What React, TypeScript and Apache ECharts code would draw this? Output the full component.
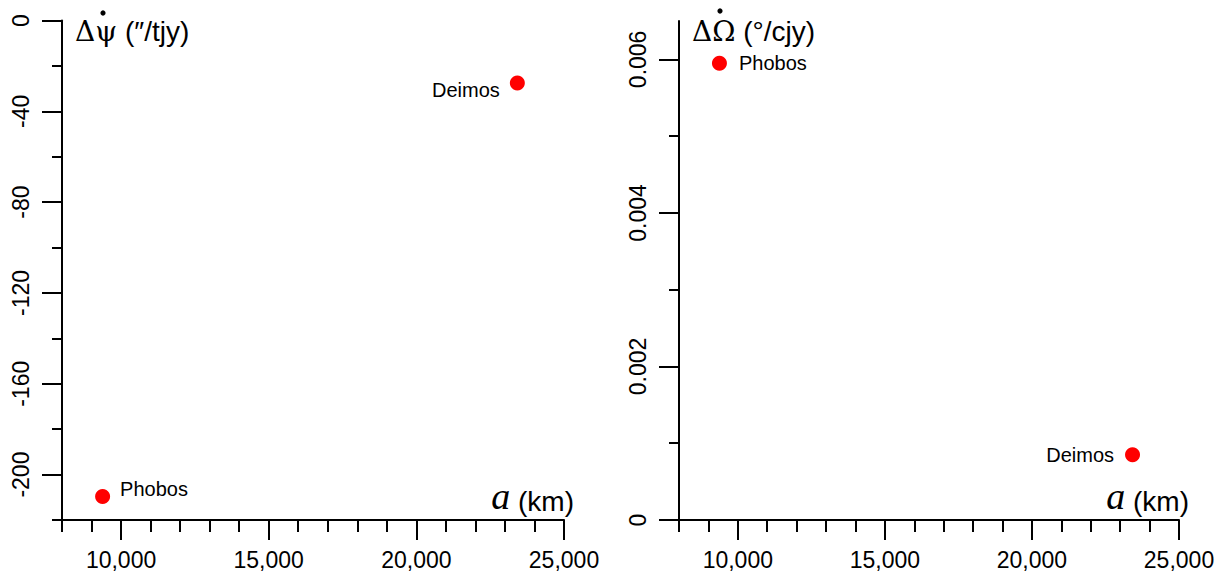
import React, { useEffect, useRef } from "react";
import * as echarts from "echarts";

const moons = ["Phobos", "Deimos"];
const semiMajorKm = [9375, 23420];
const dPsiRate = [-209.6, -27.5];
const dOmegaRate = [0.00595, 0.00085];

const xMinorTicks = [8000, 9000, 10000, 11000, 12000, 13000, 14000, 15000, 16000, 17000, 18000, 19000, 20000, 21000, 22000, 23000, 24000, 25000];
const xMajorTicks = [10000, 15000, 20000, 25000];
const psiMinorTicks = [-220, -180, -140, -100, -60, -20];
const psiMajorTicks = [-200, -160, -120, -80, -40, 0];
const omegaMinorTicks = [0.001, 0.003, 0.005];
const omegaMajorTicks = [0, 0.002, 0.004, 0.006];

const SANS = "'Liberation Sans', Arial, Helvetica, sans-serif";
const SERIF = "'Liberation Serif', 'Times New Roman', serif";
const GREEK = "'DejaVu Serif', 'Liberation Serif', serif";
const BLACK = "#000";
const RED = "#ff0000";

export default function App() {
  const ref = useRef<HTMLDivElement>(null);

  useEffect(() => {
    document.body.style.margin = "0";
    const chart = echarts.init(ref.current!, null, { renderer: "svg" });

    const line = { show: true, onZero: false, lineStyle: { color: BLACK, width: 2 } };
    const noLine = { show: false, onZero: false };

    const xName = {
      name: "{i|a}{s| (km)}",
      nameLocation: "end" as const,
      nameGap: 10,
      nameTextStyle: {
        align: "right",
        verticalAlign: "bottom",
        padding: [0, 0, 5, 0],
        rich: {
          i: { fontFamily: SERIF, fontStyle: "italic", fontSize: 38, color: BLACK, verticalAlign: "bottom" },
          s: { fontFamily: SANS, fontSize: 28, color: BLACK, verticalAlign: "bottom" },
        },
      },
    };

    const xAxesFor = (gridIndex: number) => [
      {
        type: "value",
        gridIndex,
        min: 8000,
        max: 25000,
        position: "bottom",
        axisLine: line,
        axisTick: { show: true, customValues: xMinorTicks, length: 12, lineStyle: { color: BLACK, width: 2 } },
        axisLabel: { show: false },
        splitLine: { show: false },
        ...xName,
      },
      {
        type: "value",
        gridIndex,
        min: 8000,
        max: 25000,
        position: "bottom",
        axisLine: noLine,
        axisTick: { show: true, customValues: xMajorTicks, length: 20, lineStyle: { color: BLACK, width: 2 } },
        axisLabel: {
          show: true,
          customValues: xMajorTicks,
          formatter: (v: number) => v.toLocaleString("en-US"),
          fontFamily: SANS,
          fontSize: 23,
          color: BLACK,
          margin: 28,
        },
        splitLine: { show: false },
      },
    ];

    const titleStyle = {
      align: "left",
      verticalAlign: "middle",
      padding: [0, 0, 0, 13],
      rich: {
        g: { fontFamily: GREEK, fontSize: 28, color: BLACK },
        s: { fontFamily: SANS, fontSize: 28, color: BLACK },
      },
    };

    const yAxesFor = (
      gridIndex: number,
      min: number,
      max: number,
      minor: number[],
      major: number[],
      fmt: (v: number) => string,
      title: string
    ) => [
      {
        type: "value",
        gridIndex,
        min,
        max,
        position: "left",
        axisLine: line,
        axisTick: { show: true, customValues: minor, length: 10, lineStyle: { color: BLACK, width: 2 } },
        axisLabel: { show: false },
        splitLine: { show: false },
        name: title,
        nameLocation: "end",
        nameGap: -10.5,
        nameTextStyle: titleStyle,
      },
      {
        type: "value",
        gridIndex,
        min,
        max,
        position: "left",
        axisLine: noLine,
        axisTick: { show: true, customValues: major, length: 20, lineStyle: { color: BLACK, width: 2 } },
        axisLabel: {
          show: true,
          customValues: major,
          formatter: fmt,
          rotate: 90,
          fontFamily: SANS,
          fontSize: 23,
          color: BLACK,
          margin: 30,
        },
        splitLine: { show: false },
      },
    ];

    const labelCfg = (position: string, distance: number, offsetY: number) => ({
      show: true,
      position,
      distance,
      offset: [0, offsetY],
      formatter: "{b}",
      fontFamily: SANS,
      fontSize: 20,
      color: BLACK,
      opacity: 1,
    });

    const psiData = moons.map((m, i) => ({
      name: m,
      value: [semiMajorKm[i], dPsiRate[i]],
      label: m === "Phobos" ? labelCfg("right", 10, -7) : labelCfg("left", 10, 7),
    }));
    const omegaData = moons.map((m, i) => ({
      name: m,
      value: [semiMajorKm[i], dOmegaRate[i]],
      label: m === "Phobos" ? labelCfg("right", 12, 0) : labelCfg("left", 11, 0),
    }));

    chart.setOption({
      animation: false,
      backgroundColor: "#fff",
      grid: [
        { left: 62, top: 20.5, width: 502, height: 499.5 },
        { left: 679, top: 21, width: 500, height: 499 },
      ],
      xAxis: [...xAxesFor(0), ...xAxesFor(1)],
      yAxis: [
        ...yAxesFor(0, -220, 0, psiMinorTicks, psiMajorTicks, (v: number) => String(v), "{g|Δψ}{s| (″/tjy)}"),
        ...yAxesFor(1, 0, 0.0065, omegaMinorTicks, omegaMajorTicks, (v: number) => (v === 0 ? "0" : v.toFixed(3)), "{g|ΔΩ}{s| (°/cjy)}"),
      ],
      // time-derivative dots above ψ and Ω in the axis titles
      graphic: [
        { type: "circle", shape: { cx: 103, cy: 13, r: 2.6 }, style: { fill: BLACK } },
        { type: "circle", shape: { cx: 720, cy: 11, r: 2.6 }, style: { fill: BLACK } },
      ],
      series: [
        {
          type: "scatter",
          xAxisIndex: 0,
          yAxisIndex: 0,
          symbol: "circle",
          symbolSize: 15,
          itemStyle: { color: RED, opacity: 1 },
          data: psiData,
        },
        {
          type: "scatter",
          xAxisIndex: 2,
          yAxisIndex: 2,
          symbol: "circle",
          symbolSize: 15,
          itemStyle: { color: RED, opacity: 1 },
          data: omegaData,
        },
      ],
    });

    return () => chart.dispose();
  }, []);

  return (
    <div
      ref={ref}
      style={{ width: 1228, height: 575, position: "absolute", left: 0, top: 0 }}
    />
  );
}
